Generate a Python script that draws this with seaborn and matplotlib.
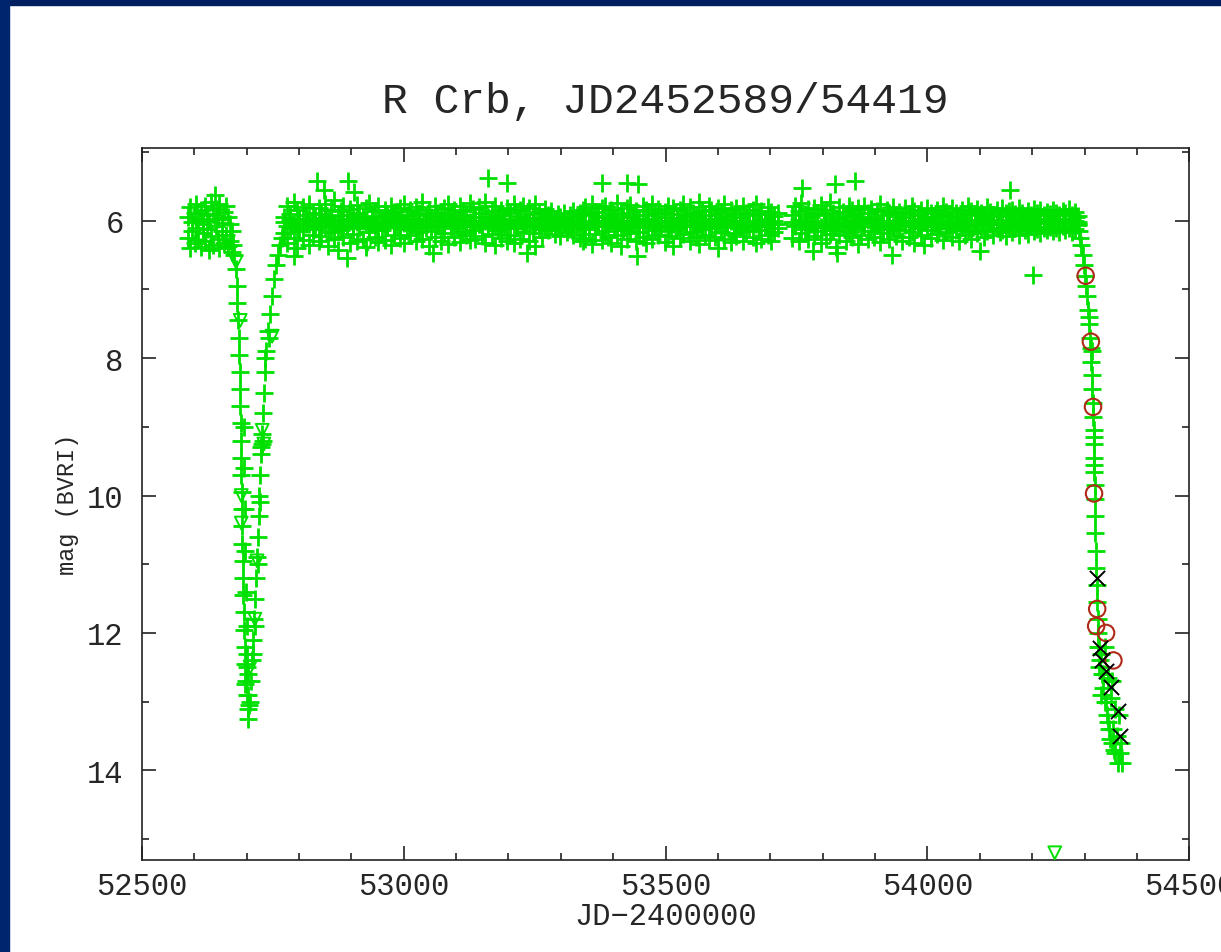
import numpy as np
import pandas as pd
import matplotlib
matplotlib.use("Agg")
import matplotlib.pyplot as plt
import seaborn as sns
from matplotlib.patches import Rectangle
from matplotlib.ticker import MultipleLocator

GREEN = "#00e000"
RED = "#b02a18"

# pre-fade maximum (JD-2400000, two observers per night)
pre_jd = [52589, 52592, 52596, 52601, 52604, 52608, 52613, 52616, 52620, 52625, 52628,
          52633, 52636, 52641, 52645, 52648, 52653, 52657, 52660, 52665, 52669, 52672]
pre_mag_a = [5.95, 5.80, 6.02, 5.88, 5.75, 5.98, 5.85, 6.05, 5.78, 5.92, 6.00,
             5.72, 5.90, 5.83, 5.97, 5.76, 6.03, 5.87, 5.79, 5.95, 6.05, 6.15]
pre_mag_b = [6.25, 6.40, 6.15, 6.32, 6.10, 6.28, 6.38, 6.18, 6.30, 6.12, 6.42,
             6.22, 6.35, 6.08, 6.27, 6.40, 6.15, 6.33, 6.20, 6.36, 6.30, 6.45]

# long maximum 52770 - 54290
band_jd = [
    52772, 52778, 52783, 52790, 52796, 52801, 52808, 52814, 52819, 52826, 52831, 52838,
    52843, 52850, 52856, 52862, 52867, 52874, 52880, 52885, 52892, 52898, 52904, 52910,
    52915, 52922, 52928, 52933, 52940, 52946, 52951, 52958, 52964, 52969, 52976, 52982,
    52988, 52993, 53000, 53006, 53012, 53017, 53024, 53030, 53035, 53042, 53048, 53053,
    53060, 53066, 53072, 53077, 53084, 53090, 53096, 53101, 53108, 53114, 53119, 53126,
    53132, 53137, 53144, 53150, 53156, 53161, 53168, 53174, 53180, 53185, 53192, 53198,
    53203, 53210, 53216, 53222, 53227, 53234, 53240, 53246, 53251, 53258, 53264, 53270,
    53275, 53282, 53288, 53294, 53299, 53306, 53312, 53318, 53323, 53330, 53336, 53342,
    53347, 53354, 53360, 53366, 53371, 53378, 53384, 53390, 53395, 53402, 53408, 53414,
    53419, 53426, 53432, 53438, 53443, 53450, 53456, 53462, 53467, 53474, 53480, 53486,
    53491, 53498, 53504, 53510, 53515, 53522, 53528, 53534, 53539, 53546, 53552, 53558,
    53563, 53570, 53576, 53582, 53587, 53594, 53600, 53606, 53611, 53618, 53624, 53630,
    53635, 53642, 53648, 53654, 53659, 53666, 53672, 53678, 53683, 53690, 53696, 53702,
    53707, 53714, 53742, 53748, 53754, 53759, 53766, 53772, 53778, 53783, 53790, 53796,
    53802, 53807, 53814, 53820, 53826, 53831, 53838, 53844, 53850, 53855, 53862, 53868,
    53874, 53879, 53886, 53892, 53898, 53903, 53910, 53916, 53922, 53927, 53934, 53940,
    53946, 53951, 53958, 53964, 53970, 53975, 53982, 53988, 53994, 53999, 54006, 54012,
    54018, 54023, 54030, 54036, 54042, 54047, 54054, 54060, 54066, 54071, 54078, 54084,
    54090, 54095, 54102, 54108, 54114, 54119, 54126, 54132, 54138, 54143, 54150, 54156,
    54162, 54167, 54174, 54180, 54186, 54191, 54198, 54204, 54210, 54215, 54222, 54228,
    54234, 54239, 54246, 54252, 54258, 54263, 54270, 54276, 54282, 54287,
]
band_mag_hi = [
    5.95, 5.78, 5.90, 5.72, 5.85, 5.98, 5.80, 5.92, 5.75, 5.88, 5.96, 5.82,
    5.90, 5.76, 5.94, 5.84, 5.70, 5.92, 5.86, 5.79, 5.97, 5.83, 5.91, 5.77,
    5.88, 5.95, 5.81, 5.74, 5.93, 5.86, 5.79, 5.96, 5.84, 5.90, 5.78, 5.87,
    5.94, 5.82, 5.76, 5.91, 5.85, 5.98, 5.80, 5.89, 5.73, 5.92, 5.84, 5.95,
    5.79, 5.88, 5.93, 5.81, 5.76, 5.90, 5.85, 5.97, 5.78, 5.86, 5.92, 5.74,
    5.83, 5.95, 5.80, 5.89, 5.72, 5.94, 5.86, 5.78, 5.91, 5.84, 5.97, 5.81,
    5.88, 5.76, 5.93, 5.85, 5.79, 5.96, 5.82, 5.90, 5.75, 5.87, 5.94, 5.83,
    5.92, 5.86, 5.97, 5.90, 5.95, 5.88, 5.99, 5.91, 5.86, 5.94, 5.89, 5.84,
    5.80, 5.91, 5.76, 5.87, 5.94, 5.82, 5.78, 5.93, 5.85, 5.90, 5.74, 5.88,
    5.95, 5.81, 5.77, 5.92, 5.86, 5.98, 5.79, 5.84, 5.91, 5.75, 5.89, 5.83,
    5.94, 5.87, 5.78, 5.90, 5.82, 5.96, 5.85, 5.76, 5.92, 5.80, 5.88, 5.95,
    5.73, 5.86, 5.91, 5.79, 5.84, 5.97, 5.81, 5.89, 5.76, 5.93, 5.85, 5.90,
    5.82, 5.95, 5.78, 5.88, 5.92, 5.84, 5.75, 5.90, 5.86, 5.97, 5.80, 5.87,
    5.93, 5.89, 5.92, 5.79, 5.86, 5.74, 5.90, 5.83, 5.95, 5.81, 5.88, 5.77,
    5.91, 5.84, 5.72, 5.89, 5.96, 5.80, 5.87, 5.93, 5.78, 5.85, 5.90, 5.82,
    5.94, 5.79, 5.88, 5.83, 5.97, 5.86, 5.76, 5.91, 5.84, 5.89, 5.80, 5.93,
    5.87, 5.95, 5.82, 5.90, 5.78, 5.86, 5.92, 5.84, 5.97, 5.81, 5.88, 5.94,
    5.85, 5.91, 5.79, 5.87, 5.93, 5.82, 5.89, 5.96, 5.84, 5.90, 5.78, 5.86,
    5.92, 5.83, 5.88, 5.95, 5.80, 5.87, 5.91, 5.85, 5.93, 5.82, 5.89, 5.86,
    5.84, 5.90, 5.81, 5.88, 5.94, 5.86, 5.92, 5.83, 5.89, 5.85, 5.91, 5.87,
    5.90, 5.84, 5.88, 5.92, 5.86, 5.89, 5.83, 5.91, 5.87, 5.93,
]
band_mag_mid = [
    6.02, 6.08, 5.99, 6.05, 6.10, 6.01, 6.06, 5.98, 6.04, 6.09, 6.00, 6.07,
    6.03, 5.97, 6.08, 6.01, 6.05, 6.11, 5.99, 6.04, 6.07, 6.00, 6.06, 6.02,
    6.09, 5.98, 6.04, 6.07, 6.01, 6.05, 6.10, 6.00, 6.03, 6.08, 5.99, 6.06,
    6.01, 6.06, 6.03, 5.98, 6.09, 6.02, 6.05, 6.00, 6.07, 6.04, 5.99, 6.08,
    6.05, 6.00, 6.07, 6.03, 5.98, 6.06, 6.01, 6.09, 6.04, 5.99, 6.08, 6.02,
    6.07, 6.01, 6.04, 6.09, 6.00, 6.05, 6.02, 6.08, 5.98, 6.06, 6.03, 6.10,
    6.00, 6.06, 6.03, 5.99, 6.08, 6.02, 6.05, 6.01, 6.07, 6.04, 5.98, 6.09,
    6.02, 6.00, 6.05, 6.01, 6.07, 5.99, 6.04, 6.02, 6.06, 6.00, 6.03, 6.08,
    6.04, 6.09, 6.01, 6.06, 6.00, 6.05, 6.08, 6.02, 5.99, 6.07, 6.03, 6.10,
    6.01, 6.05, 6.08, 6.00, 6.04, 6.09, 6.02, 6.06, 5.98, 6.03, 6.07, 6.01,
    6.06, 6.02, 6.09, 6.00, 6.05, 6.03, 6.08, 5.99, 6.04, 6.07, 6.01, 6.06,
    6.03, 6.08, 6.00, 6.05, 6.10, 6.02, 6.06, 5.98, 6.04, 6.09, 6.01, 6.07,
    6.05, 6.00, 6.07, 6.03, 6.09, 6.01, 6.04, 6.08, 5.99, 6.06, 6.02, 6.05,
    6.00, 6.04, 6.02, 6.07, 5.99, 6.05, 6.01, 6.08, 6.03, 6.06, 6.00, 6.09,
    6.04, 6.07, 6.01, 6.05, 6.09, 5.98, 6.03, 6.06, 6.02, 6.08, 6.00, 6.05,
    6.02, 6.06, 5.99, 6.04, 6.08, 6.01, 6.05, 6.00, 6.07, 6.03, 6.09, 6.01,
    6.06, 6.01, 6.04, 6.08, 6.00, 6.05, 6.02, 6.07, 5.99, 6.04, 6.06, 6.02,
    6.03, 6.07, 6.00, 6.05, 6.09, 6.01, 6.04, 6.02, 6.06, 5.99, 6.03, 6.05,
    6.00, 6.04, 6.02, 5.98, 6.05, 6.01, 6.03, 5.99, 6.04, 6.00, 6.02, 6.05,
    6.01, 5.98, 6.03, 6.00, 6.02, 5.97, 6.04, 6.00, 6.01, 5.99, 6.03, 6.00,
    5.98, 6.02, 6.00, 5.97, 6.01, 5.99, 6.03, 5.98, 6.00, 6.02,
]
band_mag_lo = [
    6.18, 6.32, 6.10, 6.25, 6.40, 6.15, 6.28, 6.05, 6.35, 6.20, 6.12, 6.30,
    6.22, 6.08, 6.36, 6.17, 6.27, 6.42, 6.13, 6.24, 6.06, 6.33, 6.19, 6.29,
    6.11, 6.26, 6.38, 6.16, 6.04, 6.23, 6.31, 6.14, 6.28, 6.09, 6.35, 6.20,
    6.07, 6.25, 6.33, 6.12, 6.21, 6.04, 6.30, 6.17, 6.26, 6.10, 6.37, 6.15,
    6.23, 6.08, 6.29, 6.18, 6.34, 6.11, 6.24, 6.06, 6.31, 6.16, 6.21, 6.28,
    6.13, 6.27, 6.05, 6.22, 6.32, 6.09, 6.19, 6.35, 6.14, 6.25, 6.07, 6.30,
    6.20, 6.33, 6.11, 6.26, 6.16, 6.04, 6.29, 6.18, 6.36, 6.12, 6.23, 6.08,
    6.14, 6.06, 6.19, 6.10, 6.22, 6.04, 6.16, 6.12, 6.20, 6.08, 6.25, 6.30,
    6.27, 6.12, 6.34, 6.19, 6.07, 6.28, 6.15, 6.24, 6.32, 6.10, 6.21, 6.37,
    6.13, 6.26, 6.18, 6.05, 6.30, 6.16, 6.23, 6.33, 6.09, 6.27, 6.14, 6.20,
    6.08, 6.31, 6.22, 6.15, 6.36, 6.11, 6.25, 6.19, 6.06, 6.29, 6.17, 6.24,
    6.34, 6.12, 6.20, 6.28, 6.09, 6.23, 6.40, 6.16, 6.26, 6.07, 6.31, 6.18,
    6.22, 6.10, 6.29, 6.15, 6.05, 6.24, 6.33, 6.13, 6.27, 6.08, 6.20, 6.30,
    6.16, 6.11, 6.25, 6.06, 6.30, 6.18, 6.12, 6.27, 6.04, 6.22, 6.15, 6.33,
    6.09, 6.26, 6.19, 6.13, 6.38, 6.21, 6.07, 6.29, 6.16, 6.24, 6.11, 6.34,
    6.20, 6.08, 6.27, 6.15, 6.23, 6.05, 6.31, 6.18, 6.12, 6.26, 6.09, 6.22,
    6.14, 6.29, 6.06, 6.24, 6.17, 6.32, 6.10, 6.21, 6.35, 6.13, 6.25, 6.08,
    6.19, 6.11, 6.28, 6.16, 6.04, 6.23, 6.13, 6.30, 6.09, 6.20, 6.15, 6.26,
    6.07, 6.18, 6.12, 6.24, 6.15, 6.05, 6.21, 6.10, 6.17, 6.13, 6.22, 6.09,
    6.16, 6.11, 6.20, 6.06, 6.14, 6.19, 6.08, 6.15, 6.12, 6.18, 6.10, 6.14,
    6.09, 6.15, 6.11, 6.17, 6.08, 6.13, 6.10, 6.16, 6.12, 6.06,
]

# scattered bright / faint estimates during maximum
out_jd = [52835, 52848, 52894, 52905, 53161, 53197, 53379, 53427, 53448, 53823,
          53862, 53760, 54158, 52640, 52892, 52790, 53056, 53236, 53446, 53782,
          53827, 53932, 54100, 54202]
out_mag = [5.42, 5.55, 5.42, 5.58, 5.38, 5.45, 5.45, 5.45, 5.47, 5.47,
           5.42, 5.52, 5.55, 5.62, 6.54, 6.52, 6.47, 6.47, 6.51, 6.44,
           6.47, 6.50, 6.44, 6.79]

# 2003 fade and recovery
dip_jd = [52674, 52677, 52679, 52681, 52682, 52684, 52685, 52686, 52687, 52688,
          52688, 52689, 52689, 52690, 52690, 52691, 52691, 52692, 52692, 52693,
          52693, 52694, 52695, 52696, 52697, 52698, 52699, 52700, 52702, 52703,
          52695, 52696, 52697, 52698, 52699, 52700, 52701, 52702, 52703, 52704,
          52700, 52698,
          52706, 52708, 52710, 52712, 52714, 52716, 52718, 52720, 52722, 52723,
          52724, 52726, 52727, 52729, 52731, 52733, 52735, 52738, 52741, 52744,
          52748, 52752, 52756, 52760, 52764, 52768,
          52713, 52717, 52721, 52725, 52728, 52730, 52732, 52736, 52743]
dip_mag = [6.35, 6.50, 6.70, 6.95, 7.20, 7.45, 7.70, 7.95, 8.20, 8.45,
           8.70, 8.95, 9.20, 9.45, 9.70, 9.95, 10.20, 10.45, 10.70, 10.95,
           11.20, 11.45, 11.70, 11.95, 12.20, 12.45, 12.70, 12.90, 13.10, 13.25,
           9.00, 9.60, 10.20, 10.80, 11.40, 11.90, 12.30, 12.60, 12.90, 13.05,
           12.50, 12.75,
           13.00, 12.70, 12.40, 12.10, 11.80, 11.50, 11.20, 10.90, 10.60, 10.30,
           10.00, 9.70, 9.40, 9.10, 8.80, 8.50, 8.20, 7.90, 7.60, 7.35,
           7.10, 6.85, 6.65, 6.50, 6.35, 6.25,
           12.30, 11.90, 11.00, 10.10, 9.30, 9.25, 9.20, 8.00, 7.70]

# 2007 fade
dec_jd = [54284, 54288, 54290, 54292, 54294, 54296, 54298, 54300, 54302, 54304,
          54306, 54308, 54310, 54312, 54313, 54314, 54315, 54316, 54316, 54317,
          54317, 54318, 54318, 54319, 54319, 54320, 54320, 54321, 54322, 54323,
          54324, 54325, 54326, 54328, 54330, 54333, 54336, 54339, 54343, 54347,
          54352, 54358, 54364,
          54325, 54332, 54338, 54327, 54335, 54345, 54352, 54332, 54340, 54350,
          54358, 54366, 54345, 54355, 54362, 54370, 54348, 54372, 54368, 54357,
          54318, 54317, 54314, 54309]
dec_mag = [5.95, 6.05, 6.15, 6.25, 6.35, 6.50, 6.65, 6.80, 6.95, 7.10,
           7.30, 7.50, 7.70, 7.85, 8.05, 8.25, 8.45, 8.65, 8.85, 9.05,
           9.25, 9.45, 9.65, 9.85, 10.05, 10.30, 10.55, 10.80, 11.05, 11.30,
           11.55, 11.80, 12.00, 12.20, 12.40, 12.60, 12.80, 13.00, 13.20, 13.40,
           13.60, 13.75, 13.90,
           12.20, 12.30, 12.20, 12.50, 12.60, 12.65, 12.70, 12.90, 13.00, 12.95,
           13.10, 13.20, 13.30, 13.40, 13.50, 13.60, 13.55, 13.90, 13.75, 13.70,
           9.55, 9.15, 7.90, 7.40]

# fainter-than estimates
lim_jd = [52680, 52688, 52690, 52690, 52720, 52716, 52707, 52730, 52733, 52749, 52930, 54243]
lim_mag = [6.60, 7.45, 10.00, 10.40, 10.95, 11.80, 12.50, 9.05, 9.25, 7.68, 6.36, 15.20]

# other bands / observers
circ_jd = [54302, 54312, 54316, 54318, 54324, 54322, 54341, 54355]
circ_mag = [6.80, 7.76, 8.71, 9.97, 11.65, 11.90, 12.00, 12.40]
cross_jd = [54324, 54330, 54334, 54340, 54350, 54363, 54368]
cross_mag = [11.20, 12.22, 12.40, 12.55, 12.78, 13.13, 13.50]

green = pd.DataFrame({
    "jd": np.concatenate([pre_jd, pre_jd, band_jd, band_jd, band_jd,
                          out_jd, dip_jd, dec_jd]),
    "mag": np.concatenate([pre_mag_a, pre_mag_b, band_mag_hi, band_mag_mid,
                           band_mag_lo, out_mag, dip_mag, dec_mag]),
})

sns.set_style("ticks")
plt.rcParams["font.family"] = ["Liberation Mono", "DejaVu Sans Mono"]
plt.rcParams["axes.linewidth"] = 1.2
plt.rcParams["axes.edgecolor"] = "#222222"

fig = plt.figure(figsize=(12.21, 9.53), dpi=100)
fig.patch.set_facecolor("white")
# slide frame
fig.patches.append(Rectangle((0, 1 - 6 / 953), 1, 6 / 953, transform=fig.transFigure,
                             color="#001f5f", zorder=0))
fig.patches.append(Rectangle((0, 0), 9 / 1221, 1, transform=fig.transFigure,
                             color="#00256f", zorder=0))

ax = fig.add_axes([0.1161, 0.0969, 0.8580, 0.7468])

sns.scatterplot(data=green, x="jd", y="mag", marker="+", s=150, color=GREEN,
                linewidth=2.0, ax=ax, zorder=2)
sns.scatterplot(x=lim_jd, y=lim_mag, marker="v", s=85, facecolors="none",
                edgecolor=GREEN, linewidth=1.4, ax=ax, zorder=3)
sns.scatterplot(x=circ_jd, y=circ_mag, marker="o", s=140, facecolors="none",
                edgecolor=RED, linewidth=1.5, ax=ax, zorder=4)
sns.scatterplot(x=cross_jd, y=cross_mag, marker="x", s=120, color="black",
                linewidth=1.4, ax=ax, zorder=5)

ax.set_xlim(52500, 54500)
ax.set_ylim(15.3, 4.94)
ax.xaxis.set_major_locator(MultipleLocator(500))
ax.xaxis.set_minor_locator(MultipleLocator(100))
ax.yaxis.set_major_locator(MultipleLocator(2))
ax.yaxis.set_minor_locator(MultipleLocator(1))
ax.tick_params(which="both", direction="in", top=True, right=True,
               color="#222222", width=1.2)
ax.tick_params(which="major", length=10, labelsize=22)
ax.tick_params(which="minor", length=5)
ax.tick_params(axis="x", which="major", pad=8)
ax.tick_params(axis="y", which="major", pad=13)

ax.set_title("R Crb, JD2452589/54419", fontsize=31, pad=26)
ax.set_xlabel("JD\u22122400000", fontsize=22, labelpad=0)
ax.set_ylabel("mag (BVRI)", fontsize=17, labelpad=6)

fig.savefig("out.png", dpi=100)
